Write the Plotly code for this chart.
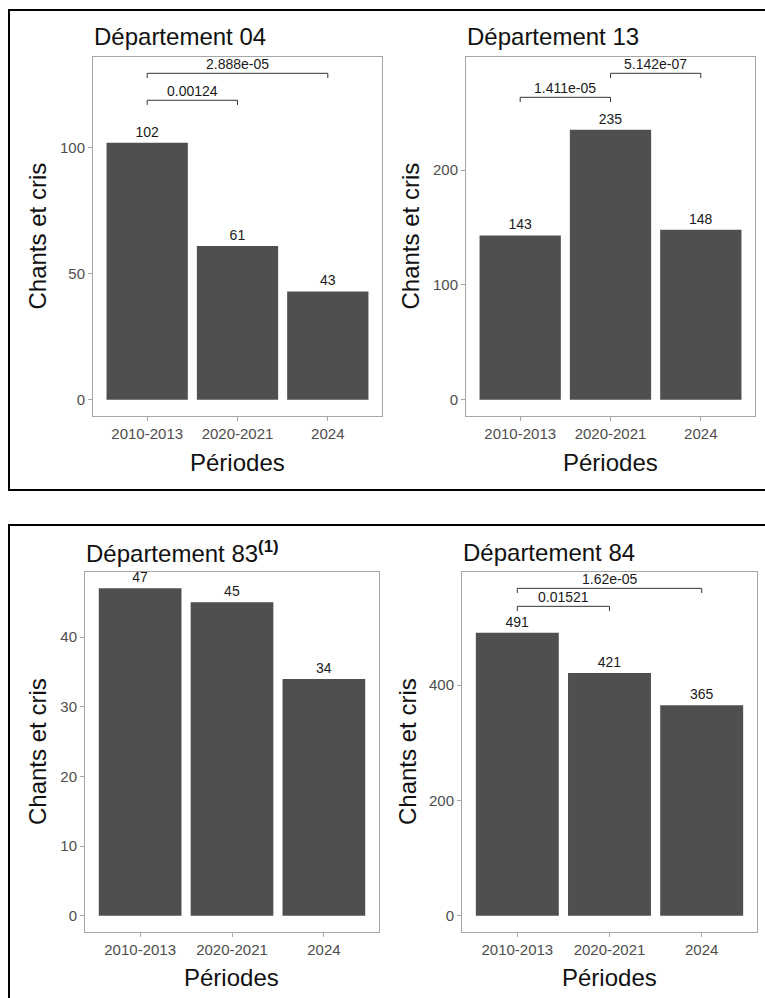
import plotly.graph_objects as go

# ---------------- data ----------------
periods = ["2010-2013", "2020-2021", "2024"]

dep04 = [102, 61, 43]
dep13 = [143, 235, 148]
dep83 = [47, 45, 34]
dep84 = [491, 421, 365]

titles = ["Département 04", "Département 13",
          "Département 83<sup><b>(1)</b></sup>", "Département 84"]

# significance brackets: (index a, index b), bracket height, p-value label
br04_pairs = [(0, 1), (0, 2)]
br04_y = [118.9, 129.6]
br04_p = ["0.00124", "2.888e-05"]

br13_pairs = [(0, 1), (1, 2)]
br13_y = [263.3, 284.2]
br13_p = ["1.411e-05", "5.142e-07"]

br83_pairs = []
br83_y = []
br83_p = []

br84_pairs = [(0, 1), (0, 2)]
br84_y = [536.8, 568.0]
br84_p = ["0.01521", "1.62e-05"]

yticks_step = [50, 100, 10, 200]

# ---------------- layout helpers ----------------
W, H = 765, 998
FONT = "Liberation Sans, Arial, sans-serif"
BAR = "#4f4f4f"
BORDER = "#a6a6a6"
TICKC = "#4d4d4d"

# plot boxes in pixels: x0, x1, y0(top), y1(bottom)
boxes = [(93, 382, 57, 416), (466, 755, 57, 416),
         (85, 379, 572, 932), (462, 757, 572, 932)]
ytitle_x = [37, 410, 37, 407]
xtitle_y = [463, 463, 977, 977]
title_y = [37, 37, 552, 552]

panels = [
    (dep04, br04_pairs, br04_y, br04_p),
    (dep13, br13_pairs, br13_y, br13_p),
    (dep83, br83_pairs, br83_y, br83_p),
    (dep84, br84_pairs, br84_y, br84_p),
]

fig = go.Figure()
shapes = []
annotations = []
layout_axes = {}

for k, (vals, pairs, bys, bps) in enumerate(panels):
    n = k + 1
    xa = "x" if n == 1 else f"x{n}"
    ya = "y" if n == 1 else f"y{n}"
    x0, x1, y0, y1 = boxes[k]

    ymax = max([max(vals)] + list(bys))
    yrange = [-0.05 * ymax, 1.05 * ymax]

    fig.add_trace(go.Bar(
        x=periods, y=vals, xaxis=xa, yaxis=ya,
        marker=dict(color=BAR, line=dict(width=0)),
        width=0.9,
        text=[str(v) for v in vals], textposition="outside",
        textfont=dict(family=FONT, size=14, color="#1a1a1a"),
        constraintext="none", cliponaxis=False,
        showlegend=False, hoverinfo="x+y",
    ))

    common = dict(showline=True, linecolor=BORDER, linewidth=1, mirror=True,
                  showgrid=False, zeroline=False, ticks="outside", ticklen=4,
                  tickcolor=BORDER,
                  tickfont=dict(family=FONT, size=15, color=TICKC))
    layout_axes["xaxis" if n == 1 else f"xaxis{n}"] = dict(
        domain=[x0 / W, x1 / W], anchor=ya, type="category",
        range=[-0.6, len(periods) - 0.4], fixedrange=True, **common)
    layout_axes["yaxis" if n == 1 else f"yaxis{n}"] = dict(
        domain=[1 - y1 / H, 1 - y0 / H], anchor=xa, range=yrange,
        dtick=yticks_step[k], tick0=0, fixedrange=True, **common)

    # significance brackets
    tip = 0.013 * (yrange[1] - yrange[0])
    xr = "x" if n == 1 else f"x{n}"
    yr = "y" if n == 1 else f"y{n}"
    for (a, b), by, bp in zip(pairs, bys, bps):
        shapes.append(dict(type="path", xref=xr, yref=yr,
                           path=f"M {a},{by - tip} L {a},{by} L {b},{by} L {b},{by - tip}",
                           line=dict(color="#333333", width=1)))
        annotations.append(dict(xref=xr, yref=yr, x=(a + b) / 2, y=by,
                                text=bp, showarrow=False, yanchor="bottom",
                                yshift=-1,
                                font=dict(family=FONT, size=14, color="#1a1a1a")))

    # panel title
    annotations.append(dict(xref="paper", yref="paper", x=(x0 - 1) / W,
                            y=1 - title_y[k] / H, xanchor="left", yanchor="middle",
                            text=titles[k], showarrow=False,
                            font=dict(family=FONT, size=24, color="#111111")))
    # axis titles
    annotations.append(dict(xref="paper", yref="paper", x=ytitle_x[k] / W,
                            y=1 - (y0 + y1) / 2 / H, xanchor="center", yanchor="middle",
                            text="Chants et cris", textangle=-90, showarrow=False,
                            font=dict(family=FONT, size=24, color="#111111")))
    annotations.append(dict(xref="paper", yref="paper", x=(x0 + x1) / 2 / W,
                            y=1 - xtitle_y[k] / H, xanchor="center", yanchor="middle",
                            text="Périodes", showarrow=False,
                            font=dict(family=FONT, size=24, color="#111111")))

# black frames around each row
shapes.append(dict(type="rect", xref="paper", yref="paper",
                   x0=9 / W, x1=790 / W, y0=1 - 490 / H, y1=1 - 10 / H,
                   line=dict(color="black", width=2)))
shapes.append(dict(type="rect", xref="paper", yref="paper",
                   x0=9 / W, x1=790 / W, y0=1 - 1020 / H, y1=1 - 525 / H,
                   line=dict(color="black", width=2)))

fig.update_layout(width=W, height=H, margin=dict(l=0, r=0, t=0, b=0),
                  paper_bgcolor="white", plot_bgcolor="white",
                  shapes=shapes, annotations=annotations, bargap=0.1,
                  **layout_axes)

fig.write_html("out.html", config={"displayModeBar": False},
               post_script="document.body.style.margin='0';document.body.style.overflow='hidden';")
